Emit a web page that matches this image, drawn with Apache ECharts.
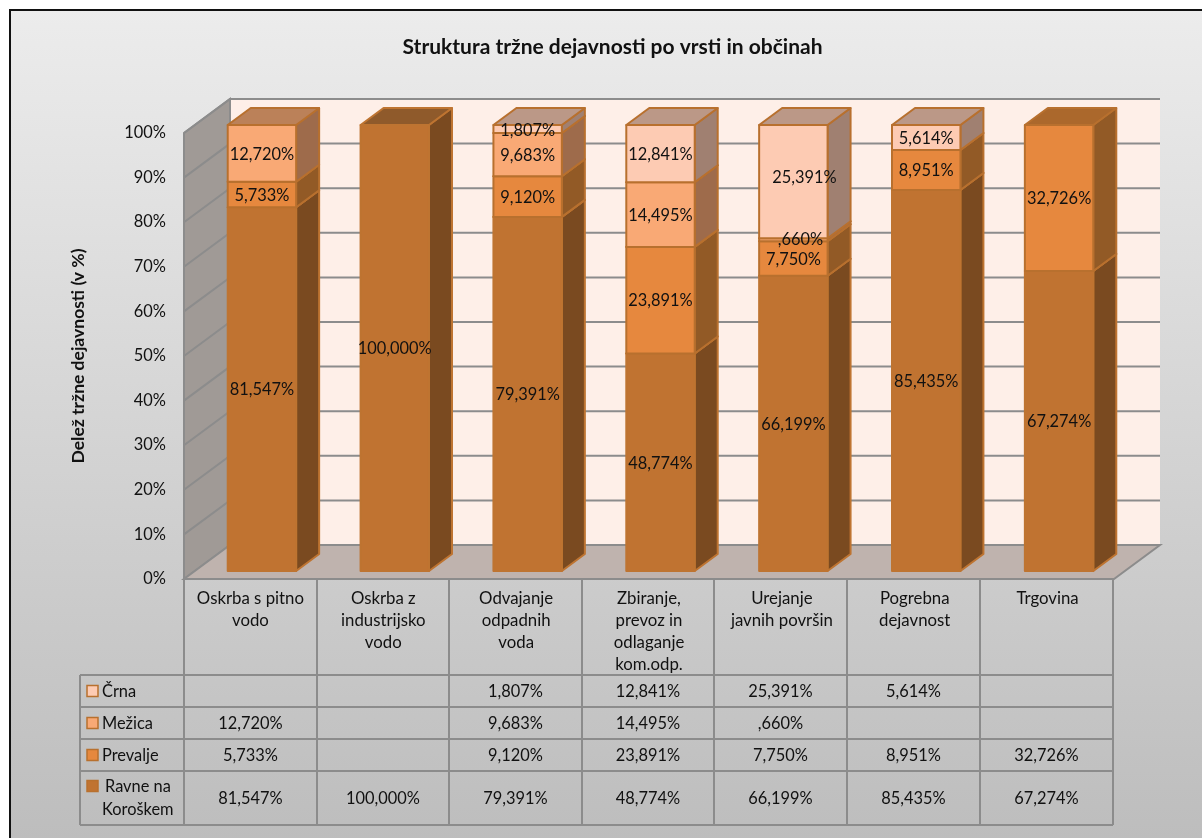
<!DOCTYPE html>
<html><head><meta charset="utf-8">
<style>html,body{margin:0;padding:0;background:#fff}#c{width:1202px;height:838px}</style>
<script src="https://cdn.jsdelivr.net/npm/echarts@6/dist/echarts.min.js"></script>
</head><body><div id="c"></div>
<script>
const categories = ["Oskrba s pitno\nvodo","Oskrba z\nindustrijsko\nvodo","Odvajanje\nodpadnih\nvoda","Zbiranje,\nprevoz in\nodlaganje\nkom.odp.","Urejanje\njavnih površin","Pogrebna\ndejavnost","Trgovina"];
const ravne   = [81.547,100,79.391,48.774,66.199,85.435,67.274];
const prevalje= [5.733,null,9.120,23.891,7.750,8.951,32.726];
const mezica  = [12.720,null,9.683,14.495,0.660,null,null];
const crna    = [null,null,1.807,12.841,25.391,5.614,null];
const yTicks  = [0,10,20,30,40,50,60,70,80,90,100];
const seriesNames = ["Ravne na Koroškem","Prevalje","Mežica","Črna"];
const seriesValues = [ravne,prevalje,mezica,crna];
const FONT = 'Lato';
const TEXT = '#111';
const EDGE = '#B8702E';
const GRIDC = '#8C8C8C';
const FS = 16.4;
const styles = [
 {front:'#C07331',side:'#7A4A20',top:'#8F5A2B',stroke:'#BE7431'},
 {front:'#E6883E',side:'#925A26',top:'#AB682C',stroke:EDGE},
 {front:'#F9A975',side:'#9E6B4B',top:'#BB8159',stroke:EDGE},
 {front:'#FDCBB3',side:'#A08071',top:'#BB9887',stroke:EDGE}
];
const DX=46, DY=34;
const fmt = v => v==null ? '' : (v.toFixed(3).replace('.',',').replace(/^0,/,',')+'%');
const nudges = {'4_3':[11,-5],'4_2':[7,-1],'2_3':[0,1]};

function renderWalls(params, api){
  const band = api.size([1,0])[0];
  const xl = api.coord([0,0])[0]-band/2, xr = api.coord([6,0])[0]+band/2;
  const y = api.coord([0,api.value(1)])[1];
  const yb = api.coord([0,0])[1], yt = api.coord([0,100])[1];
  const ch = [];
  if(params.dataIndex===0){
    ch.push({type:'polygon',shape:{points:[[xl+DX,yt-DY],[xr+DX,yt-DY],[xr+DX,yb-DY],[xl+DX,yb-DY]]},style:{fill:'#FEEFE8'}});
    ch.push({type:'polygon',shape:{points:[[xl,yt],[xl+DX,yt-DY],[xl+DX,yb-DY],[xl,yb]]},style:{fill:'#A09A96',stroke:GRIDC,lineWidth:2}});
    ch.push({type:'polygon',shape:{points:[[xl,yb],[xr,yb],[xr+DX,yb-DY],[xl+DX,yb-DY]]},style:{fill:'#BFB3AE',stroke:GRIDC,lineWidth:2}});
    ch.push({type:'line',shape:{x1:xl+DX,y1:yt-DY,x2:xr+DX,y2:yt-DY},style:{stroke:GRIDC,lineWidth:2}});
    return {type:'group',children:ch};
  }
  if(y===yb) return null;
  return {type:'polyline',shape:{points:[[xl,y],[xl+DX,y-DY],[xr+DX,y-DY]]},style:{fill:null,stroke:GRIDC,lineWidth:2}};
}
const BARW = 0.515;
function renderBar(s){
  return function(params, api){
    const i=api.value(0), a=api.value(1), b=api.value(2);
    if(!(b>a)) return null;
    const band=api.size([1,0])[0], w=band*BARW;
    const ox=DX/4, oy=-DY/4+0.5, bx=DX/2, by=-DY/2;
    const cx=api.coord([i,0])[0]+ox;
    const x0=cx-w/2, x1=cx+w/2;
    const y0=api.coord([i,a])[1]+oy, y1=api.coord([i,b])[1]+oy;
    const st=styles[s];
    const sty=f=>({fill:f,stroke:st.stroke,lineWidth:2,lineJoin:'round'});
    return {type:'group',children:[
      {type:'polygon',shape:{points:[[x1,y0],[x1+bx,y0+by],[x1+bx,y1+by],[x1,y1]]},style:sty(st.side)},
      {type:'polygon',shape:{points:[[x0,y1],[x1,y1],[x1+bx,y1+by],[x0+bx,y1+by]]},style:sty(st.top)},
      {type:'rect',shape:{x:x0,y:y1,width:w,height:y0-y1},style:sty(st.front)}
    ]};
  };
}
function renderLabel(s){
  return function(params, api){
    const i=api.value(0), a=api.value(1), b=api.value(2);
    if(!(b>a)) return null;
    const cx=api.coord([i,0])[0]+DX/4;
    const y0=api.coord([i,a])[1]-DY/4, y1=api.coord([i,b])[1]-DY/4;
    const n=nudges[i+'_'+s]||[0,0];
    return {type:'text',style:{text:fmt(b-a),x:cx+n[0],y:(y0+y1)/2+n[1]+1.5,align:'center',verticalAlign:'middle',font:FS+'px '+FONT,fill:TEXT}};
  };
}
const stackData = seriesValues.map((vals,s)=>vals.map((v,i)=>{
  let base=0; for(let k=0;k<s;k++) base+=seriesValues[k][i]||0;
  return [i,base,v==null?base:base+v];
}));
const barSeries = stackData.map((data,s)=>({type:'custom',name:seriesNames[s],renderItem:renderBar(s),data,encode:{x:0,y:[1,2]},z:3+s,silent:true,clip:false}));
const labelSeries = stackData.map((data,s)=>({type:'custom',renderItem:renderLabel(s),data,encode:{x:0,y:[1,2]},z:20,silent:true,clip:false}));

// data table
const colX=[184,317,449,582,714,847,980,1113];
const rowY=[675,707,739,771,825];
const rowOrder=[3,2,1,0];
const g=[];
g.push({type:'rect',z:-5,shape:{x:10,y:10,width:1300,height:1000},style:{fill:new echarts.graphic.LinearGradient(0,0,0,1,[{offset:0,color:'#ECECEC'},{offset:.83,color:'#BDBDBD'},{offset:1,color:'#BDBDBD'}]),stroke:'#111',lineWidth:2}});
const ln=(x1,y1,x2,y2,lw)=>g.push({type:'line',z:10,shape:{x1,y1,x2,y2},style:{stroke:GRIDC,lineWidth:lw||2}});
colX.forEach(x=>ln(x,579,x,825));
ln(80,675,80,825);
rowY.forEach(y=>ln(80,y,1113,y));
rowOrder.forEach((s,r)=>{
  const cy=(rowY[r]+rowY[r+1])/2+1;
  const two=s===0;
  const sy=two?786:cy-1;
  g.push({type:'rect',z:10,shape:{x:87,y:sy-5.5,width:11,height:11},style:{fill:styles[s].front,stroke:EDGE,lineWidth:1.5}});
  if(two){
    g.push({type:'text',z:10,style:{text:'Ravne na',x:105,y:787,verticalAlign:'middle',font:FS+'px '+FONT,fill:TEXT}});
    g.push({type:'text',z:10,style:{text:'Koroškem',x:102,y:810,verticalAlign:'middle',font:FS+'px '+FONT,fill:TEXT}});
  } else {
    g.push({type:'text',z:10,style:{text:seriesNames[s],x:102,y:cy,verticalAlign:'middle',font:FS+'px '+FONT,fill:TEXT}});
  }
  seriesValues[s].forEach((v,i)=>{
    if(v==null) return;
    g.push({type:'text',z:10,style:{text:fmt(v),x:(colX[i]+colX[i+1])/2,y:cy,align:'center',verticalAlign:'middle',font:FS+'px '+FONT,fill:TEXT}});
  });
});

const chart=echarts.init(document.getElementById('c'),null,{renderer:'canvas'});
chart.setOption({
  animation:false,
  title:{text:'Struktura tržne dejavnosti po vrsti in občinah',left:607.5,top:32,textAlign:'center',textStyle:{fontFamily:FONT,fontWeight:'bold',fontSize:21,color:TEXT}},
  grid:{left:184,top:133,width:930,height:446},
  xAxis:{type:'category',data:categories,axisLine:{show:false},axisTick:{show:false},splitLine:{show:false},
    axisLabel:{interval:0,margin:9,fontFamily:FONT,fontSize:16.8,color:TEXT,lineHeight:22,align:'center',verticalAlign:'top'}},
  yAxis:{type:'value',min:0,max:100,interval:10,axisLine:{show:false},axisTick:{show:false},splitLine:{show:false},
    axisLabel:{formatter:'{value}%',margin:18,fontFamily:FONT,fontSize:FS,color:TEXT},
    name:'Delež tržne dejavnosti (v %)',nameLocation:'middle',nameRotate:90,nameGap:97,
    nameTextStyle:{fontFamily:FONT,fontWeight:'bold',fontSize:17.5,color:TEXT}},
  graphic:{elements:g},
  series:[{type:'custom',renderItem:renderWalls,data:yTicks.map(t=>[0,t]),encode:{x:0,y:1},z:2,silent:true,clip:false},...barSeries,...labelSeries]
});
</script></body></html>
